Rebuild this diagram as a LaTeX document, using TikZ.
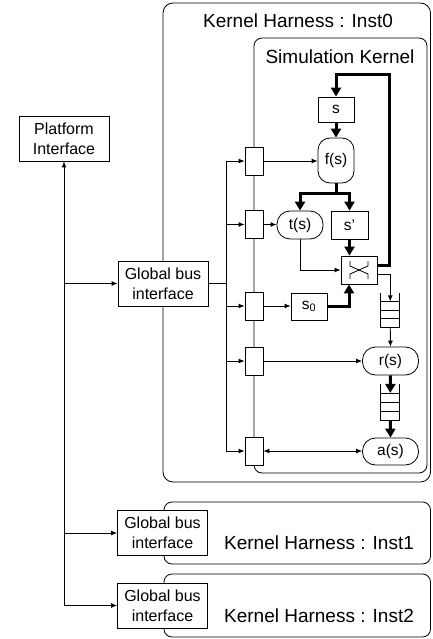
\documentclass[tikz,border=0pt]{standalone}
\usepackage{fontspec}
\setmainfont{Liberation Sans}
\usetikzlibrary{arrows.meta,calc}
\begin{document}
\begin{tikzpicture}[x=1pt,y=-1pt,
  box/.style={draw, line width=0.8pt, fill=white, inner sep=0pt, align=center, font=\fontsize{15.5}{19}\selectfont},
  gbox/.style={box, minimum width=90pt, minimum height=45pt, font=\fontsize{16}{20}\selectfont},
  port/.style={draw, line width=0.8pt, fill=white, minimum width=18pt, minimum height=28pt, inner sep=0pt},
  stad/.style={box, rounded corners=13pt, minimum height=28pt},
  fifo/.style={inner sep=0pt, minimum width=18.5pt},
  thinarr/.style={line width=0.9pt, -{Latex[length=6pt,width=5pt]}},
  thickarr/.style={line width=3pt, -{Triangle[length=9pt,width=10pt]}},
  harness/.style={draw, line width=0.8pt, rounded corners=10pt},
  title/.style={inner sep=0pt, font=\fontsize{19}{22}\selectfont}
]
\useasboundingbox (0,0) rectangle (432,639);

% harness boxes
\draw[harness] (163,3) rectangle (430.5,482);
\node[title] (t0) at (298,21) {Kernel Harness : Inst0};
\draw[harness, rounded corners=8pt] (254,38) rectangle (427,473);
\node[title] (tk) at (340,56.5) {Simulation Kernel};
\draw[harness, rounded corners=8pt] (164,502) rectangle (430.5,564);
\node[title] (t1) at (319,543) {Kernel Harness : Inst1};
\draw[harness, rounded corners=8pt] (164,574) rectangle (430.5,637);
\node[title] (t2) at (319,616) {Kernel Harness : Inst2};

% kernel nodes
\node[box, minimum width=36pt, minimum height=25pt] (s) at (336,109.5) {s};
\node[box, rounded corners=12pt, minimum width=36pt, minimum height=45pt] (f) at (336,160.5) {f(s)};
\node[stad, minimum width=46pt] (t) at (300,225) {t(s)};
\node[box, minimum width=37pt, minimum height=28pt] (sp) at (349.5,225) {s'};
\node[box, minimum width=36pt, minimum height=28pt] (mux) at (359,270) {};
\node[box, minimum width=36pt, minimum height=27pt] (s0) at (309,306.5) {s\textsubscript{0}};
\node[stad, minimum width=56pt] (r) at (390.5,361) {r(s)};
\node[stad, minimum width=56pt, minimum height=27pt] (a) at (390.5,451.5) {a(s)};

% switch symbol inside mux
\draw[line width=0.8pt] ($(mux.center)+(-9,-9)$) -- ($(mux.center)+(-9,-4)$) -- ($(mux.center)+(9,4)$) -- ($(mux.center)+(9,9)$);
\draw[line width=0.8pt] ($(mux.center)+(9,-9)$) -- ($(mux.center)+(9,-4)$) -- ($(mux.center)+(-9,4)$) -- ($(mux.center)+(-9,9)$);

% fifos
\node[fifo, minimum height=34pt] (q1) at (390.25,310) {};
\node[fifo, minimum height=36pt] (q2) at (390.25,402) {};
\foreach \q in {q1,q2}{
  \draw[line width=0.8pt] (\q.north west) -- (\q.south west) -- (\q.south east) -- (\q.north east);
  \foreach \k in {0.25,0.5,0.75}{
    \draw[line width=0.8pt] ($(\q.north west)!\k!(\q.south west)$) -- ($(\q.north east)!\k!(\q.south east)$);
  }
}
\coordinate (q1in) at ($(q1.north)!0.25!(q1.south)$);
\coordinate (q2in) at ($(q2.north)!0.25!(q2.south)$);

% thick data path
\draw[thickarr] ([yshift=5pt]mux.east) -| (389,75) -| (s.north);
\draw[thickarr] (s) -- (f);
\draw[line width=3pt] (f.south) -- (336,193) coordinate (split);
\draw[thickarr] ([xshift=1.5pt]split) -| (t.north);
\draw[thickarr] ([xshift=-1.5pt]split) -| (sp.north);
\draw[thickarr] (sp.south) -- (sp.south |- mux.north);
\draw[thickarr] (s0.east) -| ([xshift=-10pt]mux.south);
\draw[thinarr] (t.south) |- (mux.west);
\draw[thinarr] ([yshift=-4pt]mux.east) -| (q1in);
\draw[thinarr] (q1.south) -- (r.north);
\draw[thickarr] (r.south) -- (q2in);
\draw[thickarr] (q2.south) -- (a.north);

% ports
\node[port] (p1) at (254,161) {};
\node[port] (p2) at (254,224.5) {};
\node[port] (p3) at (254,306) {};
\node[port] (p4) at (254,361) {};
\node[port] (p5) at (254,451) {};
\draw[thinarr] (p1.east) -- (p1.east -| f.west);
\draw[thinarr] (p2.east) -- (p2.east -| t.west);
\draw[thinarr] (p3.east) -- (p3.east -| s0.west);
\draw[thinarr] (p4.east) -- (p4.east -| r.west);
\draw[thinarr, {Latex[length=6pt,width=5pt]}-{Latex[length=6pt,width=5pt]}] (p5.east) -- (p5.east -| a.west);

% local bus
\coordinate (bt) at (226,161);
\coordinate (bb) at (226,451);
\draw[line width=0.9pt] (bt) -- (bb);
\foreach \p in {p1,p2,p3,p4,p5}{
  \draw[thinarr] (\p.west -| bt) -- (\p.west);
}

% global bus interfaces
\node[gbox] (g0) at (163,283.5) {Global bus\\interface};
\node[gbox] (g1) at (162.5,533) {Global bus\\interface};
\node[gbox] (g2) at (162.5,605.5) {Global bus\\interface};
\draw[line width=0.9pt] (g0.east) -- (g0.east -| bt);

% platform
\node[gbox] (pi) at (64,138.5) {Platform\\Interface};
\draw[thinarr] (pi.south |- g2.west) -- (pi.south);
\draw[thinarr] (pi.south |- g0.west) -- (g0.west);
\draw[thinarr] (pi.south |- g1.west) -- (g1.west);
\draw[thinarr] (pi.south |- g2.west) -- (g2.west);
\end{tikzpicture}
\end{document}
